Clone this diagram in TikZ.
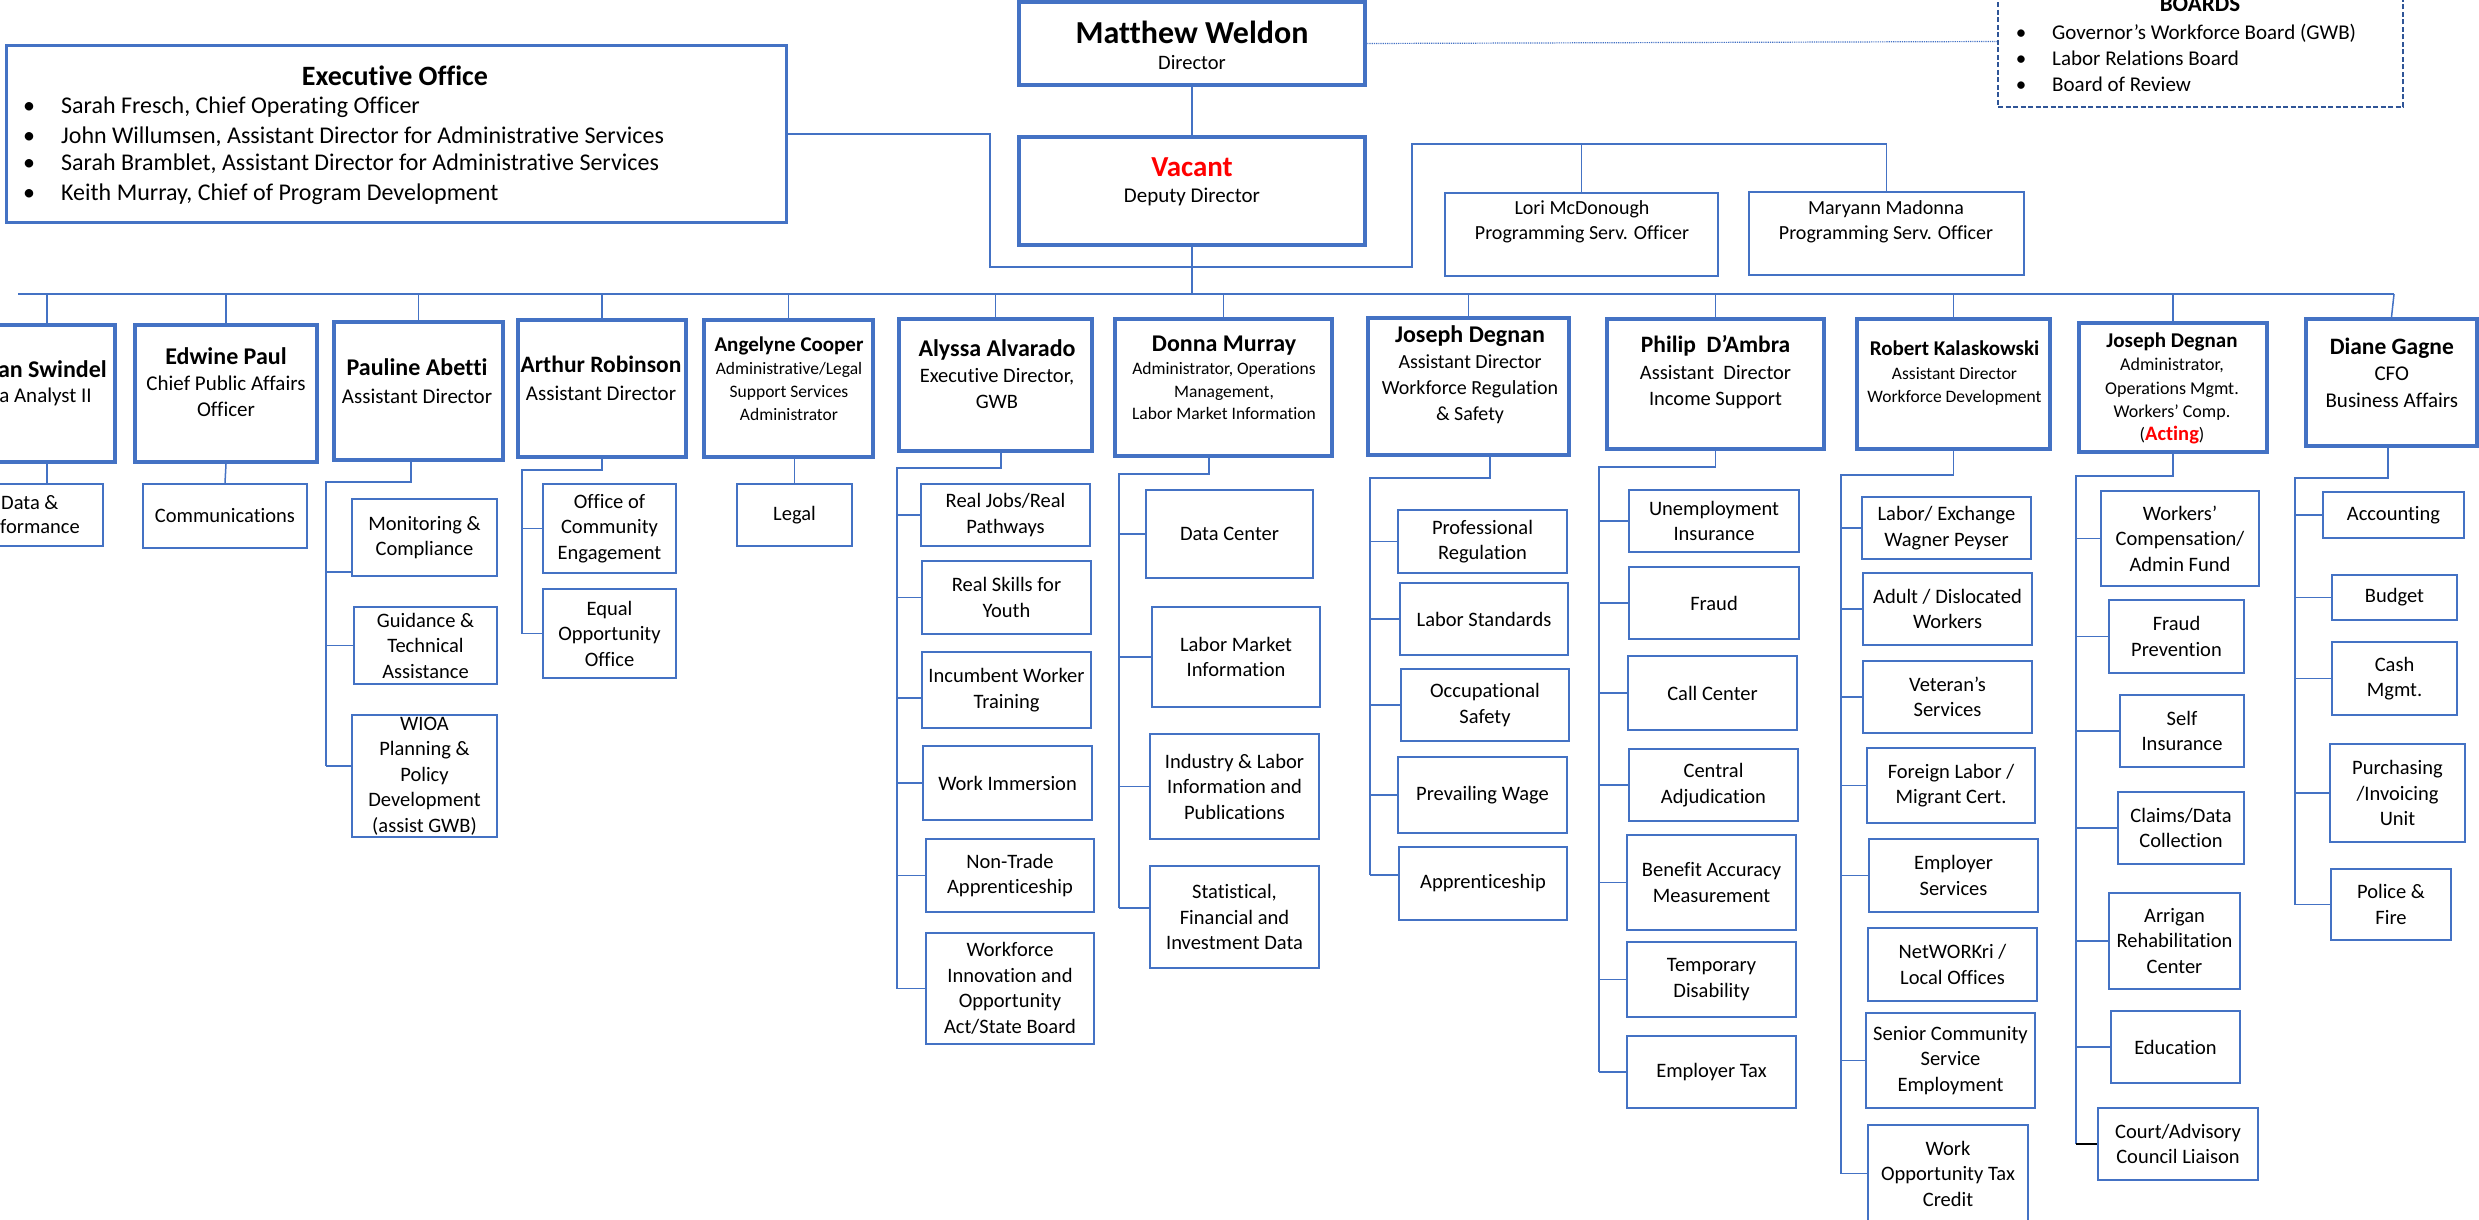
\documentclass[tikz,border=0pt]{standalone}
\usepackage{fontspec}
\setmainfont{Carlito}[Ligatures=NoCommon]
\definecolor{cblue}{RGB}{68,114,196}
\definecolor{dblue}{RGB}{47,85,151}
\definecolor{vred}{RGB}{255,0,0}
\newcommand\bx[7]{\pgfmathsetmacro\bxw{(#5)-(#3)}\pgfmathsetmacro\bxh{(#6)-(#4)}\pgfmathsetmacro\bxx{((#3)+(#5))/2}\pgfmathsetmacro\bxy{((#4)+(#6))/2}\node[#1,minimum width=\bxw pt,minimum height=\bxh pt] (#2) at (\bxx,\bxy) {#7};}
\newcommand\nmb[2]{{\fontsize{#1}{#1}\selectfont\bfseries #2}}
\begin{document}
\begin{tikzpicture}[x=1pt,y=-1pt,
  mgr/.style={draw=cblue,line width=4pt,fill=white,inner sep=0pt},
  topbox/.style={draw=cblue,line width=4.5pt,fill=white,inner sep=0pt},
  eobox/.style={draw=cblue,line width=3pt,fill=white,inner sep=0pt},
  lm/.style={draw=cblue,line width=2pt,fill=white,inner sep=0pt},
  sub/.style={draw=cblue,line width=2.2pt,fill=white,inner sep=0pt,align=center,font=\fontsize{20.5}{25.5}\selectfont},
  bd/.style={draw=dblue,line width=2.5pt,dash pattern=on 5pt off 2.5pt,fill=white,inner sep=0pt},
  mt/.style={align=center,inner sep=0pt},
  conn/.style={draw=cblue,line width=1.5pt},
  bul/.style={anchor=base,inner sep=0pt},
  btx/.style={anchor=base west,inner sep=0pt}]
\useasboundingbox (0,0) rectangle (2479,1220);

% ---------- top level ----------
\bx{topbox}{mw}{1019}{2}{1365}{85}{}
\node[mt] (mw-n) at (1192,32) {\nmb{32}{Matthew Weldon}};
\node[mt,font=\fontsize{20.5}{24}\selectfont] (mw-t) at (1192,63) {Director};

\bx{topbox}{vac}{1019}{137}{1365}{245}{}
\node[mt,text=vred] (vac-n) at (1192,167) {\nmb{29}{Vacant}};
\node[mt,font=\fontsize{21}{24}\selectfont] (vac-t) at (1192,197) {Deputy Director};

\bx{eobox}{eo}{6}{46}{786}{222}{}
\node[mt] (eo-h) at (395,76) {\nmb{28}{Executive Office}};
\begin{scope}[font=\fontsize{24}{28}\selectfont]
\node[bul] (eo-d1) at (29,114) {•};
\node[btx] (eo-b1) at (61,114) {Sarah Fresch, Chief Operating Officer};
\node[bul] (eo-d2) at (29,144) {•};
\node[btx] (eo-b2) at (61,144) {John Willumsen, Assistant Director for Administrative Services};
\node[bul] (eo-d3) at (29,171) {•};
\node[btx] (eo-b3) at (61,171) {Sarah Bramblet, Assistant Director for Administrative Services};
\node[bul] (eo-d4) at (29,200) {•};
\node[btx] (eo-b4) at (61,200) {Keith Murray, Chief of Program Development};
\end{scope}

\bx{bd}{bd}{1998}{-24}{2403}{107}{}
\node[anchor=base,inner sep=0pt] (bd-h) at (2200,12) {\nmb{23}{BOARDS}};
\begin{scope}[font=\fontsize{21}{26}\selectfont]
\node[bul] (bd-d1) at (2021,40) {•};
\node[btx] (bd-b1) at (2052,40) {Governor’s Workforce Board (GWB)};
\node[bul] (bd-d2) at (2021,66) {•};
\node[btx] (bd-b2) at (2052,66) {Labor Relations Board};
\node[bul] (bd-d3) at (2021,92) {•};
\node[btx] (bd-b3) at (2052,92) {Board of Review};
\end{scope}

\bx{lm}{lo}{1445}{193}{1718}{276}{}
\node[mt,font=\fontsize{20}{25.5}\selectfont] (lo-t) at (1582,222) {Lori McDonough\\Programming Serv. Officer};
\bx{lm}{ma}{1749}{192}{2024}{275}{}
\node[mt,font=\fontsize{20}{25.5}\selectfont] (ma-t) at (1886,222) {Maryann Madonna\\Programming Serv. Officer};

% ---------- managers ----------
\bx{mgr}{sw}{-21}{325}{115}{462}{}
\node[anchor=east,inner sep=0pt] (sw-n) at (107,369) {\nmb{24}{an Swindel}};
\node[anchor=east,inner sep=0pt,font=\fontsize{21}{24}\selectfont] (sw-t) at (92,397) {ta Analyst II};

\bx{mgr}{ep}{135}{325}{317}{462}{}
\node[mt,font=\fontsize{21}{26}\selectfont] (ep-t) at (226,382) {\nmb{24}{Edwine Paul}\\Chief Public Affairs\\Officer};

\bx{mgr}{pa}{334}{322}{503}{460}{}
\node[mt,font=\fontsize{21}{28}\selectfont] (pa-t) at (417,381) {\nmb{24}{Pauline Abetti}\\Assistant Director};

\bx{mgr}{ar}{518}{320}{686}{457}{}
\node[mt,font=\fontsize{21}{28}\selectfont] (ar-t) at (601,378) {\nmb{23.5}{Arthur Robinson}\\Assistant Director};

\bx{mgr}{ac}{704}{320}{873}{457}{}
\node[mt,font=\fontsize{17.5}{23}\selectfont] (ac-t) at (789,378.5) {\nmb{21}{Angelyne Cooper}\\Administrative/Legal\\Support Services\\Administrator};

\bx{mgr}{aa}{899}{319}{1092}{451}{}
\node[mt,font=\fontsize{20.5}{26}\selectfont] (aa-t) at (997,374) {\nmb{24}{Alyssa Alvarado}\\Executive Director,\\GWB};

\bx{mgr}{dm}{1115}{319}{1332}{456}{}
\node[mt,font=\fontsize{17.5}{22.7}\selectfont] (dm-t) at (1224,378) {\nmb{24}{Donna Murray}\\Administrator, Operations\\Management,\\Labor Market Information};

\bx{mgr}{jd1}{1368}{318}{1569}{455}{}
\node[mt,font=\fontsize{20}{26}\selectfont] (jd1-t) at (1470,375) {\nmb{24}{Joseph Degnan}\\Assistant Director\\Workforce Regulation\\\& Safety};

\bx{mgr}{pd}{1607}{319}{1824}{449}{}
\node[mt,font=\fontsize{20.5}{26.5}\selectfont] (pd-t) at (1715.5,372.5) {\nmb{23.5}{Philip\ \ D’Ambra}\\Assistant\ \ Director\\Income Support};

\bx{mgr}{rk}{1857}{319}{2050}{449}{}
\node[mt,font=\fontsize{17.5}{23.5}\selectfont] (rk-t) at (1954.5,373.5) {\nmb{21}{Robert Kalaskowski}\\Assistant Director\\Workforce Development};

\bx{mgr}{jd2}{2079}{323}{2267}{452}{}
\node[mt,font=\fontsize{18}{23.2}\selectfont] (jd2-t) at (2172,388.5) {\nmb{21}{Joseph Degnan}\\Administrator,\\Operations Mgmt.\\Workers’ Comp.\\({\fontsize{20.5}{20}\selectfont\bfseries\color{vred}Acting})};

\bx{mgr}{dg}{2306}{319}{2477}{446}{}
\node[mt,font=\fontsize{21}{26.5}\selectfont] (dg-t) at (2391.8,372.5) {\nmb{23.5}{Diane Gagne}\\CFO\\Business Affairs};

% ---------- sub units ----------
\bx{sub}{dp}{-9}{484}{103}{546}{}
\node[anchor=west,inner sep=0pt,font=\fontsize{20.5}{25.5}\selectfont] (dp-a) at (1,502.5) {Data \&};
\node[anchor=west,inner sep=0pt,font=\fontsize{20.5}{25.5}\selectfont] (dp-b) at (0,527) {formance};

\bx{sub}{cm}{143}{484}{307}{548}{Communications}

\bx{sub}{mc}{352}{499}{497}{576}{Monitoring \&\\Compliance}
\bx{sub}{gt}{354}{607}{497}{684}{Guidance \&\\Technical\\Assistance}
\bx{sub}{wi}{352}{715}{497}{837}{WIOA\\Planning \&\\Policy\\Development\\(assist GWB)}

\bx{sub}{oc}{543}{484}{676}{573}{Office of\\Community\\Engagement}
\bx{sub}{eop}{543}{589}{676}{678}{Equal\\Opportunity\\Office}

\bx{sub}{lg}{737}{484}{852}{546}{Legal}

\bx{sub}{rj}{921}{484}{1090}{546}{Real Jobs/Real\\Pathways}
\bx{sub}{rs}{922}{561}{1091}{634}{Real Skills for\\Youth}
\bx{sub}{iw}{922}{652}{1091}{728}{Incumbent Worker\\Training}
\bx{sub}{wim}{923}{746}{1092}{820}{Work Immersion}
\bx{sub}{nt}{926}{839}{1094}{912}{Non-Trade\\Apprenticeship}
\bx{sub}{wf}{926}{933}{1094}{1044}{Workforce\\Innovation and\\Opportunity\\Act/State Board}

\bx{sub}{dc}{1146}{490}{1313}{578}{Data Center}
\bx{sub}{lmi}{1152}{607}{1320}{707}{Labor Market\\Information}
\bx{sub}{il}{1150}{734}{1319}{839}{Industry \& Labor\\Information and\\Publications}
\bx{sub}{sf}{1150}{866}{1319}{968}{Statistical,\\Financial and\\Investment Data}

\bx{sub}{pr}{1398}{510}{1567}{573}{Professional\\Regulation}
\bx{sub}{ls}{1400}{583}{1568}{655}{Labor Standards}
\bx{sub}{os}{1401}{669}{1569}{741}{Occupational\\Safety}
\bx{sub}{pw}{1398}{757}{1567}{833}{Prevailing Wage}
\bx{sub}{ap}{1399}{847}{1567}{920}{Apprenticeship}

\bx{sub}{ui}{1629}{490}{1799}{552}{Unemployment\\Insurance}
\bx{sub}{fr}{1629}{567}{1799}{639}{Fraud}
\bx{sub}{cc}{1628}{656}{1797}{730}{Call Center}
\bx{sub}{ca}{1629}{749}{1798}{821}{Central\\Adjudication}
\bx{sub}{ba}{1627}{835}{1796}{930}{Benefit Accuracy\\Measurement}
\bx{sub}{td}{1627}{942}{1796}{1017}{Temporary\\Disability}
\bx{sub}{et}{1627}{1036}{1796}{1108}{Employer Tax}

\bx{sub}{le}{1862}{497}{2031}{559}{Labor/ Exchange\\Wagner Peyser}
\bx{sub}{ad}{1863}{573}{2032}{645}{Adult / Dislocated\\Workers}
\bx{sub}{vs}{1863}{661}{2032}{733}{Veteran’s\\Services}
\bx{sub}{fl}{1867}{748}{2035}{823}{Foreign Labor /\\Migrant Cert.}
\bx{sub}{es}{1869}{839}{2038}{912}{Employer\\Services}
\bx{sub}{nw}{1868}{928}{2037}{1001}{NetWORKri /\\Local Offices}
\bx{sub}{sc}{1866}{1013}{2035}{1108}{Senior Community\\Service\\Employment}
\bx{sub}{wo}{1868}{1125}{2028}{1222}{Work\\Opportunity Tax\\Credit}

\bx{sub}{wc}{2101}{491}{2259}{586}{Workers’\\Compensation/\\Admin Fund}
\bx{sub}{fp}{2109}{600}{2244}{673}{Fraud\\Prevention}
\bx{sub}{si}{2120}{695}{2244}{767}{Self\\Insurance}
\bx{sub}{cd}{2118}{792}{2244}{864}{Claims/Data\\Collection}
\bx{sub}{rc}{2109}{893}{2240}{989}{Arrigan\\Rehabilitation\\Center}
\bx{sub}{ed}{2111}{1011}{2240}{1083}{Education}
\bx{sub}{cl}{2098}{1108}{2258}{1180}{Court/Advisory\\Council Liaison}

\bx{sub}{acc}{2323}{492}{2464}{538}{Accounting}
\bx{sub}{bu}{2332}{575}{2457}{620}{Budget}
\bx{sub}{cm2}{2332}{642}{2457}{715}{Cash\\Mgmt.}
\bx{sub}{pu}{2330}{744}{2465}{842}{Purchasing\\/Invoicing\\Unit}
\bx{sub}{pf}{2331}{869}{2451}{940}{Police \&\\Fire}

% ---------- connectors ----------
\draw[cblue,line width=1.2pt,densely dotted] (mw.east) -- (bd.west);
\draw[conn] (mw.south) -- (vac.north);
\coordinate (busL) at (18,294);
\coordinate (busR) at (2394,294);
\draw[conn] (busL) -- (busR);
\draw[conn] (vac.south) -- (vac.south |- busL);
\coordinate (j1) at (990,267);
\coordinate (j2) at (1412,144);
\draw[conn] (eo.east) -| (j1) -- (j2 |- j1) -- (j2) -| (ma.north);
\draw[conn] (lo.north) -- (lo.north |- j2);
\foreach \m in {sw,ep,pa,ar,ac,aa,dm,jd1,pd,rk,jd2}
  \draw[conn] (\m.north) -- (\m.north |- busL);
\draw[conn] (dg.north) -- (busR);

\draw[conn] (sw.south) -- (dp.north);
\draw[conn] (ep.south) -- (cm.north);
\draw[conn] (lg.north) -- (lg.north |- ac.south);

% Pauline
\coordinate (pa-sp) at (326,482);
\coordinate (mc-in) at ([yshift=-34.5pt]mc.west);
\coordinate (wi-in) at ([yshift=10pt]wi.west);
\draw[conn] ([xshift=-7.5pt]pa.south) |- (pa-sp) -- (pa-sp |- wi-in);
\draw[conn] (pa-sp |- mc-in) -- (mc-in);
\draw[conn] (pa-sp |- gt.west) -- (gt.west);
\draw[conn] (pa-sp |- wi-in) -- (wi-in);
% Arthur
\coordinate (ar-sp) at (522,470);
\draw[conn] (ar.south) |- (ar-sp) -- (ar-sp |- eop.west);
\foreach \c in {oc,eop} \draw[conn] (ar-sp |- \c.west) -- (\c.west);
% Alyssa
\coordinate (aa-sp) at (897,468);
\coordinate (iw-in) at ([yshift=-8pt]iw.west);
\draw[conn] ([xshift=5.5pt]aa.south) |- (aa-sp) -- (aa-sp |- wf.west);
\foreach \c in {rj,rs,wim,nt,wf} \draw[conn] (aa-sp |- \c.west) -- (\c.west);
\draw[conn] (aa-sp |- iw-in) -- (iw-in);
% Donna
\coordinate (dm-sp) at (1119,474);
\coordinate (sf-in) at ([yshift=9pt]sf.west);
\draw[conn] ([xshift=-14.5pt]dm.south) |- (dm-sp) -- (dm-sp |- sf-in);
\foreach \c in {dc,lmi,il} \draw[conn] (dm-sp |- \c.west) -- (\c.west);
\draw[conn] (dm-sp |- sf-in) -- (sf-in);
% Joseph Degnan (Workforce Regulation)
\coordinate (jd1-sp) at (1370,478);
\coordinate (ap-in) at ([yshift=8.5pt]ap.west);
\draw[conn] ([xshift=21.5pt]jd1.south) |- (jd1-sp) -- (jd1-sp |- ap-in);
\foreach \c in {pr,ls,os,pw} \draw[conn] (jd1-sp |- \c.west) -- (\c.west);
\draw[conn] (jd1-sp |- ap-in) -- (ap-in);
% Philip
\coordinate (pd-sp) at (1599,467);
\draw[conn] (pd.south) |- (pd-sp) -- (pd-sp |- et.west);
\foreach \c in {ui,fr,cc,ca,ba,td,et} \draw[conn] (pd-sp |- \c.west) -- (\c.west);
% Robert
\coordinate (rk-sp) at (1841,475);
\draw[conn] (rk.south) |- (rk-sp) -- (rk-sp |- wo.west);
\foreach \c in {le,ad,vs,fl,es,sc,wo} \draw[conn] (rk-sp |- \c.west) -- (\c.west);
% Joseph Degnan (Workers' Comp)
\coordinate (jd2-sp) at (2076,476);
\draw[conn] (jd2.south) |- (jd2-sp) -- (jd2-sp |- cl.west);
\foreach \c in {wc,fp,si,cd,rc,ed} \draw[conn] (jd2-sp |- \c.west) -- (\c.west);
\draw[line width=1.5pt,black] (jd2-sp |- cl.west) -- (cl.west);
% Diane
\coordinate (dg-sp) at (2295,478);
\draw[conn] ([xshift=-3.5pt]dg.south) |- (dg-sp) -- (dg-sp |- pf.west);
\foreach \c in {acc,bu,cm2,pu,pf} \draw[conn] (dg-sp |- \c.west) -- (\c.west);
\end{tikzpicture}
\end{document}
